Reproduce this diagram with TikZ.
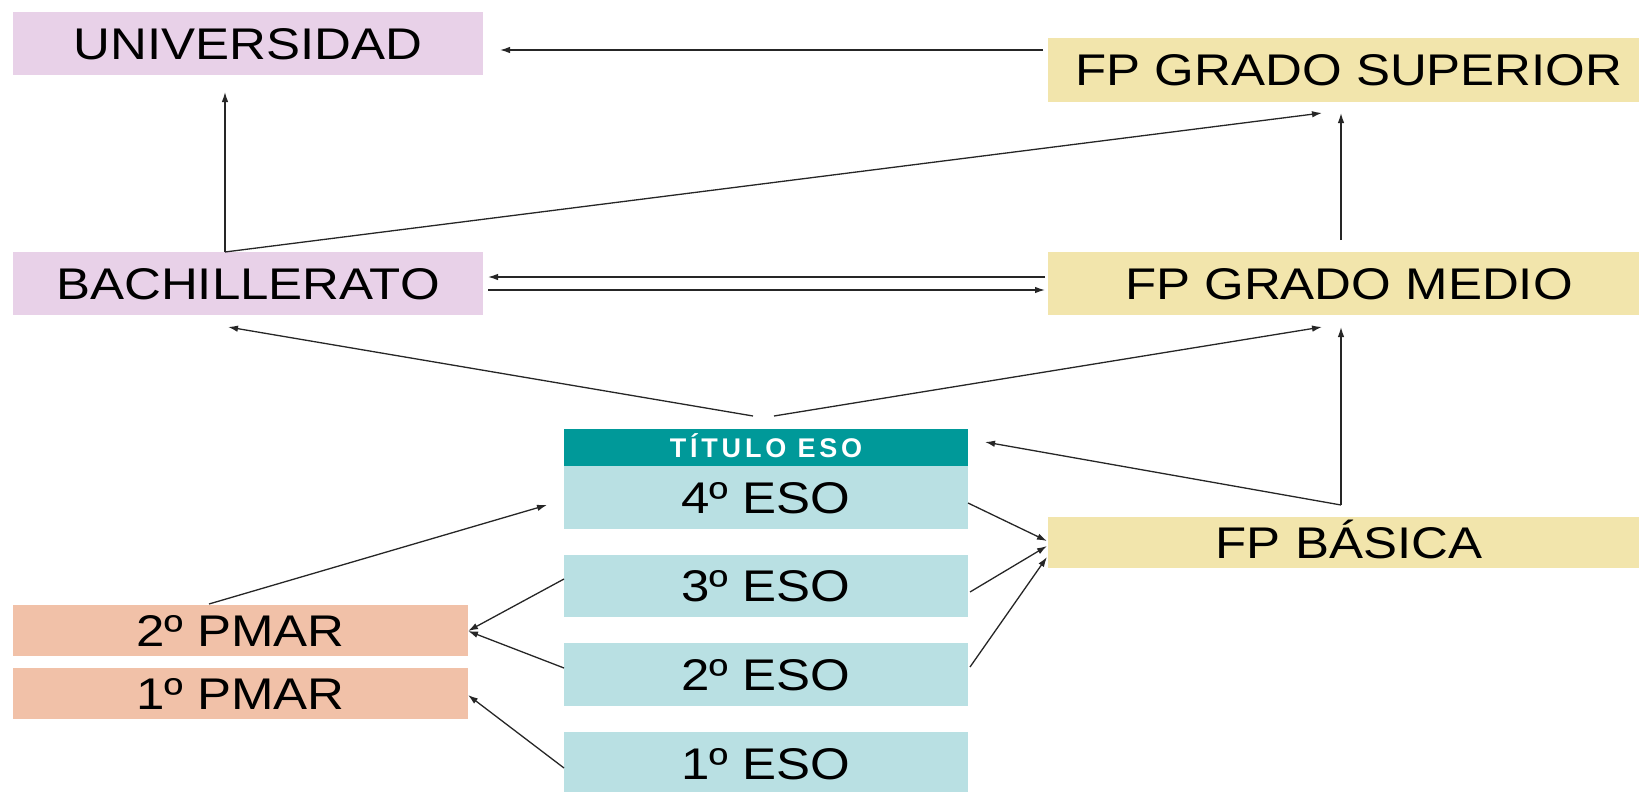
\documentclass[tikz,border=0pt]{standalone}
\usepackage{fontspec}
\setmainfont{Liberation Sans}
\usetikzlibrary{arrows.meta,calc}
\definecolor{lilac}{HTML}{E8D1E8}
\definecolor{sand}{HTML}{F2E5AC}
\definecolor{tealhead}{HTML}{009999}
\definecolor{paleblue}{HTML}{B9E0E3}
\definecolor{salmon}{HTML}{F1C1A8}
\newcommand\vsq[1]{\scalebox{1}[0.87]{#1}}
\begin{document}
\begin{tikzpicture}[x=1pt,y=-1pt,
  box/.style={rectangle, inner sep=0pt, text=black,
    font=\fontsize{51}{51}\selectfont, text height=31.8pt, text depth=0pt},
  head/.style={rectangle, inner sep=0pt, fill=tealhead, text=white,
    font=\fontsize{27}{27}\selectfont\bfseries\addfontfeatures{LetterSpace=14},
    text height=19pt, text depth=0pt},
  arr/.style={-{Latex[length=10pt,width=6.5pt]}, line width=1.3pt, draw=black!85},
  ln/.style={line width=1.3pt, draw=black!85}]
\useasboundingbox (0,0) rectangle (1639,792);
\clip (0,0) rectangle (1639,792);
% boxes
\node[box, fill=lilac, minimum width=470pt, minimum height=63pt] (univ) at (248,43.5) {\vsq{UNIVERSIDAD}};
\node[box, fill=sand, minimum width=602pt, minimum height=64pt] (fpgs) at (1349,70) {\vsq{FP GRADO SUPERIOR}};
\node[box, fill=lilac, minimum width=470pt, minimum height=63pt] (bach) at (248,283.5) {\vsq{BACHILLERATO}};
\node[box, fill=sand, minimum width=602pt, minimum height=63pt] (fpgm) at (1349,283.5) {\vsq{FP GRADO MEDIO}};
\node[head, minimum width=404pt, minimum height=37pt] (titulo) at (766,447.5) {TÍTULO ESO};
\node[box, fill=paleblue, minimum width=404pt, minimum height=63pt] (eso4) at (766,497.5) {\vsq{4º ESO}};
\node[box, fill=paleblue, minimum width=404pt, minimum height=62pt] (eso3) at (766,586) {\vsq{3º ESO}};
\node[box, fill=paleblue, minimum width=404pt, minimum height=63pt] (eso2) at (766,674.5) {\vsq{2º ESO}};
\node[box, fill=paleblue, minimum width=404pt, minimum height=63pt] (eso1) at (766,763.5) {\vsq{1º ESO}};
\node[box, fill=sand, minimum width=602pt, minimum height=51pt] (fpb) at (1349,542.5) {\vsq{FP BÁSICA}};
\node[box, fill=salmon, minimum width=455pt, minimum height=51pt] (pmar2) at (240.5,630.5) {\vsq{2º PMAR}};
\node[box, fill=salmon, minimum width=455pt, minimum height=51pt] (pmar1) at (240.5,693.5) {\vsq{1º PMAR}};
% connector end points
\coordinate (gsL) at (1043,50);
\coordinate (univR) at (500,50);
\coordinate (bachT) at (225,252);
\coordinate (univB) at (225,92);
\coordinate (gsB1) at (1322,113);
\coordinate (gsB2) at (1341,113);
\coordinate (gmT) at (1341,240);
\coordinate (gmL1) at (1045,277);
\coordinate (bachR1) at (488,277);
\coordinate (bachR2) at (488,290);
\coordinate (gmL2) at (1045,290);
\coordinate (titA) at (753,416);
\coordinate (titB) at (774,416);
\coordinate (bachB) at (228,327);
\coordinate (gmB1) at (1322,327);
\coordinate (gmB2) at (1341,327);
\coordinate (fpbT) at (1341,505);
\coordinate (titR) at (985,442);
\coordinate (e4R) at (968,503);
\coordinate (e3R) at (970,592);
\coordinate (e2R) at (970,667);
\coordinate (fpbL1) at (1047,541);
\coordinate (fpbL2) at (1047,546);
\coordinate (fpbL3) at (1047,557);
\coordinate (p2T) at (209,604);
\coordinate (e4L) at (547,505);
\coordinate (e3L) at (564,579);
\coordinate (e2L) at (564,668);
\coordinate (e1L) at (564,768);
\coordinate (p2R) at (468,631);
\coordinate (p1R) at (468,695);
% connectors
\draw[arr] (gsL) -- (univR);
\draw[arr] (bachT) -- (univB);
\draw[arr] (bachT) -- (gsB1);
\draw[arr] (gmT) -- (gsB2);
\draw[arr] (gmL1) -- (bachR1);
\draw[arr] (bachR2) -- (gmL2);
\draw[arr] (titA) -- (bachB);
\draw[arr] (titB) -- (gmB1);
\draw[arr] (fpbT) -- (gmB2);
\draw[arr] (fpbT) -- (titR);
\draw[arr] (e4R) -- (fpbL1);
\draw[arr] (e3R) -- (fpbL2);
\draw[arr] (e2R) -- (fpbL3);
\draw[arr] (p2T) -- (e4L);
\draw[arr] (e3L) -- (p2R);
\draw[arr] (e2L) -- (p2R);
\draw[arr] (e1L) -- (p1R);
\end{tikzpicture}
\end{document}
